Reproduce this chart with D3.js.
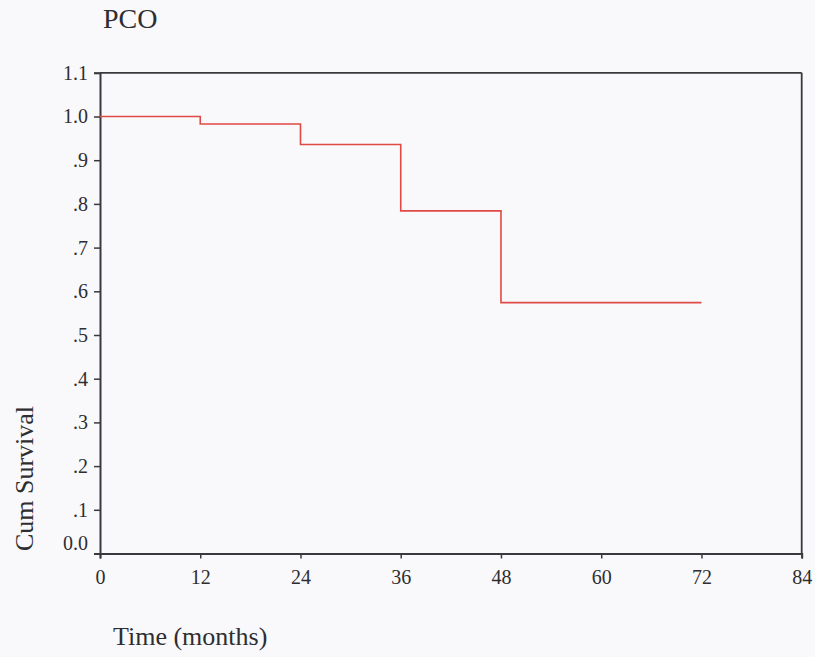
<!DOCTYPE html>
<html>
<head>
<meta charset="utf-8">
<script src="https://cdn.jsdelivr.net/npm/d3@7"></script>
<style>
  html, body { margin: 0; padding: 0; background: #f9f9fc; }
  svg { display: block; }
</style>
</head>
<body>
<svg id="chart" width="815" height="657"></svg>
<script>
// ---- data ----
const title = "PCO";
const xLabel = "Time (months)";
const yLabel = "Cum Survival";
const times = [0, 12, 24, 36, 48, 72];
const survival = [1.0, 0.983, 0.936, 0.784, 0.574, 0.574];
const xTicks = [0, 12, 24, 36, 48, 60, 72, 84];
const yTicks = [0, 0.1, 0.2, 0.3, 0.4, 0.5, 0.6, 0.7, 0.8, 0.9, 1.0, 1.1];
const yTickLabels = ["0.0", ".1", ".2", ".3", ".4", ".5", ".6", ".7", ".8", ".9", "1.0", "1.1"];

// ---- layout ----
const svg = d3.select("#chart");
const serif = "'Liberation Serif', 'Times New Roman', serif";
const axisColor = "#3a3a3e";
const textColor = "#2e2e30";

const x = d3.scaleLinear().domain([0, 84]).range([100, 801.7]);
const y = d3.scaleLinear().domain([0, 1.1]).range([553.5, 72.8]);

// frame (top and right)
svg.append("line")
  .attr("x1", x(0)).attr("x2", x(84)).attr("y1", y(1.1)).attr("y2", y(1.1))
  .attr("stroke", axisColor).attr("stroke-width", 1.8);
svg.append("line")
  .attr("x1", x(84)).attr("x2", x(84)).attr("y1", y(1.1)).attr("y2", y(0))
  .attr("stroke", axisColor).attr("stroke-width", 1.8);

// y axis
const yAxis = svg.append("g")
  .attr("transform", `translate(${x(0)},0)`)
  .call(d3.axisLeft(y).tickValues(yTicks)
    .tickFormat((d, i) => yTickLabels[i]).tickSize(6).tickPadding(6));
yAxis.selectAll("text")
  .attr("font-family", serif).attr("font-size", 20).attr("fill", textColor)
  .attr("dy", (d, i) => i === 0 ? "-0.2em" : "0.32em");

// x axis
const xAxis = svg.append("g")
  .attr("transform", `translate(0,${y(0)})`)
  .call(d3.axisBottom(x).tickValues(xTicks).tickFormat(d3.format("d")).tickSize(5).tickPadding(11));
xAxis.selectAll("text")
  .attr("font-family", serif).attr("font-size", 20).attr("fill", textColor);

[yAxis, xAxis].forEach(g => {
  g.select(".domain").attr("stroke", axisColor).attr("stroke-width", 2);
  g.selectAll(".tick line").attr("stroke", axisColor).attr("stroke-width", 1.5);
});

// survival curve
const pts = times.map((t, i) => [t, survival[i]]);
svg.append("path")
  .datum(pts)
  .attr("fill", "none")
  .attr("stroke", "#e04a44")
  .attr("stroke-width", 1.6)
  .attr("d", d3.line().x(d => x(d[0])).y(d => y(d[1])).curve(d3.curveStepAfter));

// labels
svg.append("text")
  .attr("x", 103).attr("y", 28)
  .attr("font-family", serif).attr("font-size", 28).attr("fill", textColor)
  .text(title);

svg.append("text")
  .attr("transform", `translate(33,478.5) rotate(-90)`)
  .attr("text-anchor", "middle")
  .attr("font-family", serif).attr("font-size", 26).attr("fill", textColor)
  .text(yLabel);

svg.append("text")
  .attr("x", 113).attr("y", 645)
  .attr("font-family", serif).attr("font-size", 26).attr("fill", textColor)
  .text(xLabel);
</script>
</body>
</html>
